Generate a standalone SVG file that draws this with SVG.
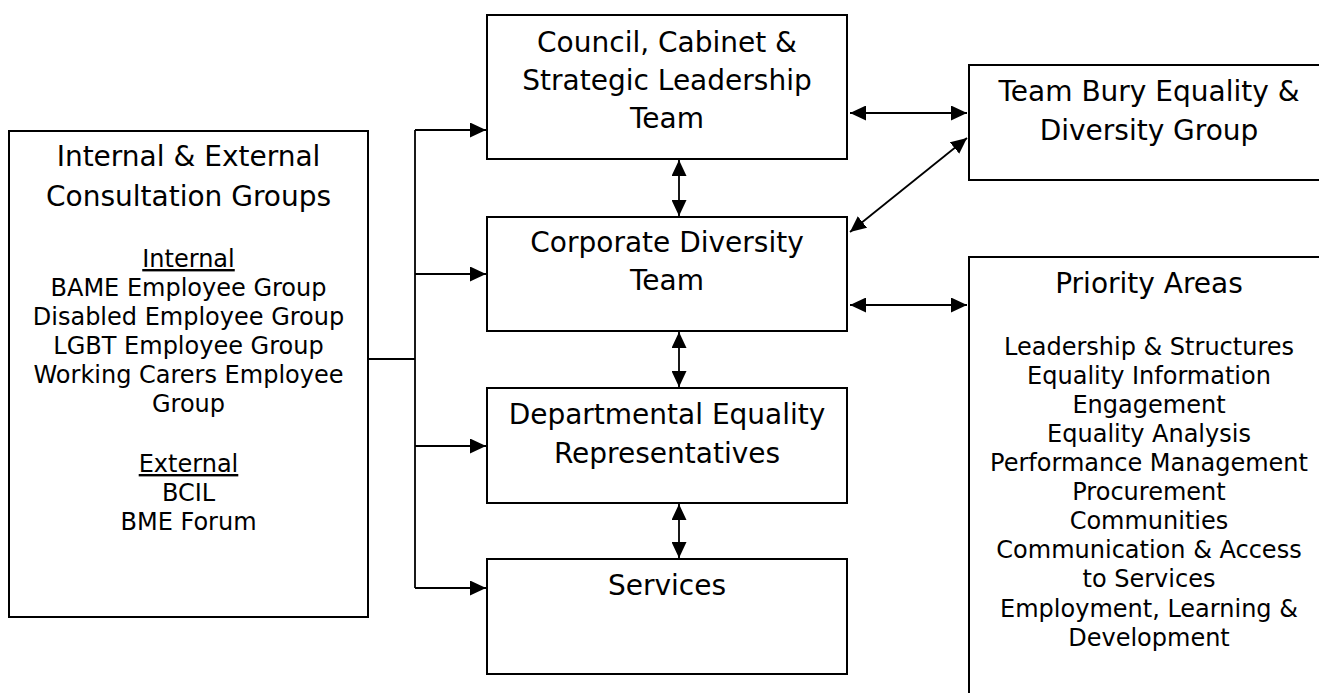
<svg xmlns="http://www.w3.org/2000/svg" width="1319" height="693" viewBox="0 0 1319 693">
  <defs>
    <marker id="arrow" viewBox="0 0 16 15" refX="16" refY="7.5" markerWidth="16" markerHeight="15" markerUnits="userSpaceOnUse" orient="auto-start-reverse">
      <path d="M0,0 L16,7.5 L0,15 Z" fill="#000"/>
    </marker>
    <style>
      .box { fill: #fff; stroke: #000; stroke-width: 2; }
      .t { font-family: "DejaVu Sans", Verdana, sans-serif; fill: #000; text-anchor: middle; }
      .h { font-size: 28px; }
      .s { font-size: 24px; }
      .u { text-decoration: underline; }
      .line { fill: none; stroke: #000; stroke-width: 1.8; }
      .one { marker-end: url(#arrow); }
      .two { marker-start: url(#arrow); marker-end: url(#arrow); }
    </style>
  </defs>
  <rect width="1319" height="693" fill="#fff"/>

  <g id="connectors">
    <!-- distribution trunk from consultation groups -->
    <polyline class="line" points="368,359 415,359"/>
    <polyline class="line" points="415,130 415,588"/>
    <line class="line one" x1="415" y1="130" x2="486" y2="130"/>
    <line class="line one" x1="415" y1="274" x2="486" y2="274"/>
    <line class="line one" x1="415" y1="446" x2="486" y2="446"/>
    <line class="line one" x1="415" y1="588" x2="486" y2="588"/>
    <!-- vertical two-way links -->
    <line class="line two" x1="679" y1="160" x2="679" y2="216"/>
    <line class="line two" x1="679" y1="332" x2="679" y2="387"/>
    <line class="line two" x1="679" y1="504" x2="679" y2="558"/>
    <!-- links to the right-hand boxes -->
    <line class="line two" x1="850" y1="113" x2="967" y2="113"/>
    <line class="line two" x1="850" y1="232" x2="967" y2="138"/>
    <line class="line two" x1="850" y1="305" x2="967" y2="305"/>
  </g>

  <g id="consultation-groups">
    <rect class="box" x="9" y="131" width="359" height="486"/>
    <text class="t h" x="188.5" y="166">Internal &amp; External</text>
    <text class="t h" x="188.5" y="206">Consultation Groups</text>
    <text class="t s u" x="188.5" y="267">Internal</text>
    <text class="t s" x="188.5" y="296">BAME Employee Group</text>
    <text class="t s" x="188.5" y="325">Disabled Employee Group</text>
    <text class="t s" x="188.5" y="354">LGBT Employee Group</text>
    <text class="t s" x="188.5" y="383">Working Carers Employee</text>
    <text class="t s" x="188.5" y="412">Group</text>
    <text class="t s u" x="188.5" y="472">External</text>
    <text class="t s" x="188.5" y="501">BCIL</text>
    <text class="t s" x="188.5" y="530">BME Forum</text>
  </g>

  <g id="council-cabinet">
    <rect class="box" x="487" y="15" width="360" height="144"/>
    <text class="t h" x="667" y="52">Council, Cabinet &amp;</text>
    <text class="t h" x="667" y="90">Strategic Leadership</text>
    <text class="t h" x="667" y="128">Team</text>
  </g>

  <g id="corporate-diversity">
    <rect class="box" x="487" y="217" width="360" height="114"/>
    <text class="t h" x="667" y="252">Corporate Diversity</text>
    <text class="t h" x="667" y="290">Team</text>
  </g>

  <g id="departmental-reps">
    <rect class="box" x="487" y="388" width="360" height="115"/>
    <text class="t h" x="667" y="424">Departmental Equality</text>
    <text class="t h" x="667" y="463">Representatives</text>
  </g>

  <g id="services">
    <rect class="box" x="487" y="559" width="360" height="115"/>
    <text class="t h" x="667" y="595">Services</text>
  </g>

  <g id="team-bury">
    <rect class="box" x="969" y="65" width="380" height="115"/>
    <text class="t h" x="1149" y="101">Team Bury Equality &amp;</text>
    <text class="t h" x="1149" y="140">Diversity Group</text>
  </g>

  <g id="priority-areas">
    <rect class="box" x="969" y="257" width="380" height="480"/>
    <text class="t h" x="1149" y="293">Priority Areas</text>
    <text class="t s" x="1149" y="355">Leadership &amp; Structures</text>
    <text class="t s" x="1149" y="384">Equality Information</text>
    <text class="t s" x="1149" y="413">Engagement</text>
    <text class="t s" x="1149" y="442">Equality Analysis</text>
    <text class="t s" x="1149" y="471">Performance Management</text>
    <text class="t s" x="1149" y="500">Procurement</text>
    <text class="t s" x="1149" y="529">Communities</text>
    <text class="t s" x="1149" y="558">Communication &amp; Access</text>
    <text class="t s" x="1149" y="587">to Services</text>
    <text class="t s" x="1149" y="617">Employment, Learning &amp;</text>
    <text class="t s" x="1149" y="646">Development</text>
  </g>
</svg>
